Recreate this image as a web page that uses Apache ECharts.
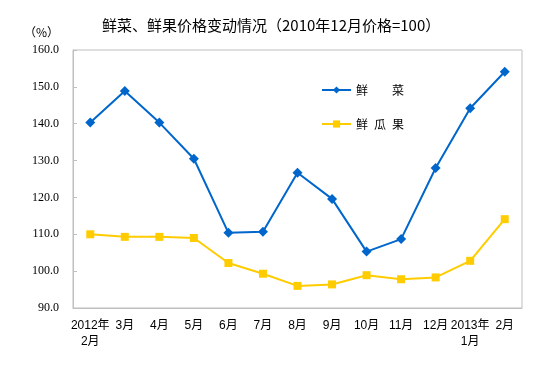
<!DOCTYPE html>
<html><head><meta charset="utf-8">
<script src="https://cdn.jsdelivr.net/npm/echarts@6/dist/echarts.min.js"></script>
<style>html,body{margin:0;padding:0;background:#fff}#c{width:550px;height:366px}</style>
</head><body><div id="c"></div>
<script>
var categories = ['2012年\n2月','3月','4月','5月','6月','7月','8月','9月','10月','11月','12月','2013年\n1月','2月'];
var vegetables = [140.3,148.9,140.3,130.5,110.4,110.7,126.7,119.6,105.3,108.7,128.0,144.2,154.1];
var fruits = [110.0,109.3,109.3,109.0,102.2,99.3,96.0,96.4,98.9,97.8,98.3,102.8,114.1];
var yTicks = {min:90, max:160, interval:10};
var titleText = '鲜菜、鲜果价格变动情况（2010年12月价格=100）';
var legendLabels = {'鲜菜':'鲜\u3000\u3000菜','鲜瓜果':'鲜\u2002瓜\u2002果'};

var chart = echarts.init(document.getElementById('c'), null, {renderer:'canvas'});
var cjk = "'Noto Sans CJK SC', sans-serif";
chart.setOption({
  animation:false,
  backgroundColor:'#fff',
  title:{text:titleText,left:97,top:13,textStyle:{fontFamily:cjk,fontSize:15,fontWeight:'normal',color:'#000'}},
  grid:{left:73,right:28,top:50,bottom:58,show:true,borderColor:'#bfbfbf',borderWidth:1,containLabel:false},
  legend:{orient:'vertical',left:316,top:79,itemGap:22,itemWidth:29,itemHeight:9,
    textStyle:{fontFamily:cjk,fontSize:12,color:'#000'},
    formatter:function(n){return legendLabels[n]||n;},
    data:['鲜菜','鲜瓜果']},
  xAxis:{type:'category',data:categories,boundaryGap:true,
    axisLine:{lineStyle:{color:'#bfbfbf'}},axisTick:{show:false},
    axisLabel:{interval:0,fontFamily:"'Liberation Sans','Noto Sans CJK SC',sans-serif",fontSize:12,color:'#000',lineHeight:16,margin:10}},
  yAxis:{type:'value',min:yTicks.min,max:yTicks.max,interval:yTicks.interval,
    name:'（%）',nameLocation:'end',nameGap:12,
    nameTextStyle:{fontFamily:cjk,fontSize:12,color:'#000',align:'right',padding:[0,14,0,0]},
    splitLine:{show:false},
    axisLine:{show:true,lineStyle:{color:'#bfbfbf'}},
    axisTick:{show:true,inside:true,length:4,lineStyle:{color:'#bfbfbf'}},
    axisLabel:{formatter:function(v){return v.toFixed(1);},fontFamily:"'Liberation Serif',serif",fontSize:12,color:'#000',margin:14}},
  series:[
    {name:'鲜菜',type:'line',data:vegetables,symbol:'diamond',symbolSize:10,
     lineStyle:{color:'#0066cc',width:2},itemStyle:{color:'#0066cc'}},
    {name:'鲜瓜果',type:'line',data:fruits,symbol:'rect',symbolSize:8,
     lineStyle:{color:'#ffcc00',width:2},itemStyle:{color:'#ffcc00'}}
  ]
});
</script></body></html>
